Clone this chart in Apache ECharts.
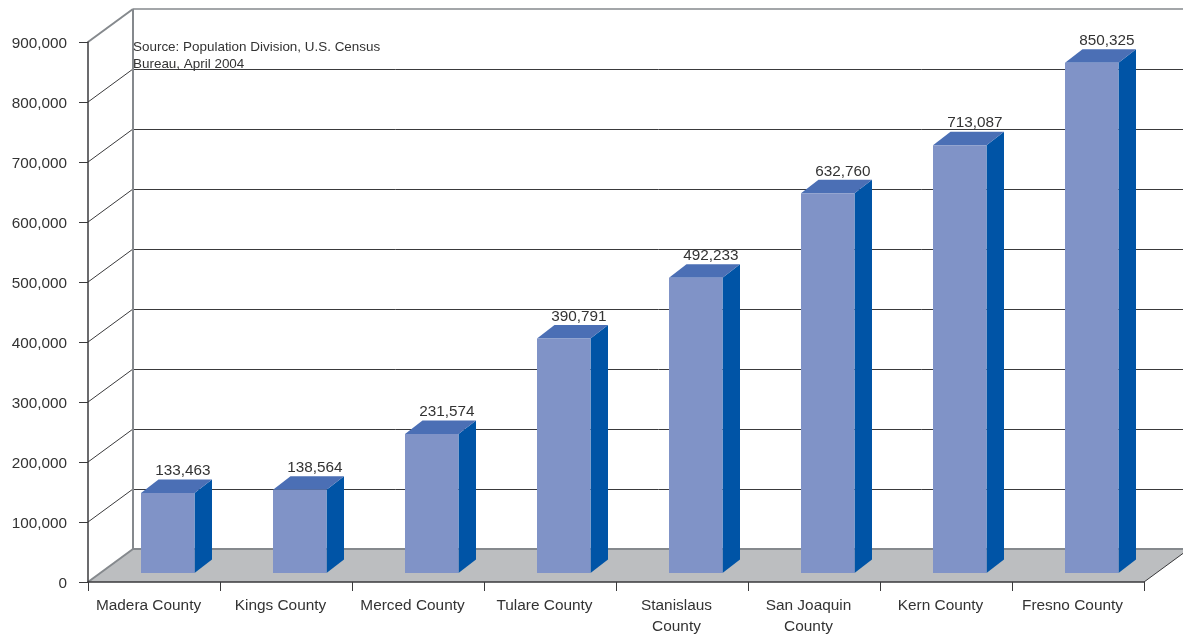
<!DOCTYPE html>
<html><head><meta charset="utf-8">
<style>html,body{margin:0;padding:0;background:#fff}#c{width:1183px;height:635px}</style>
<script src="https://cdn.jsdelivr.net/npm/echarts@6/dist/echarts.min.js"></script>
</head><body><div id="c"></div>
<script>
const categories = ['Madera County','Kings County','Merced County','Tulare County','Stanislaus\nCounty','San Joaquin\nCounty','Kern County','Fresno County'];
const population = [133463,138564,231574,390791,492233,632760,713087,850325];
const gridLevels = [0,100000,200000,300000,400000,500000,600000,700000,800000,900000];
const sourceLines = 'Source: Population Division, U.S. Census\nBureau, April 2004';

const FONT = '"Liberation Sans", Arial, sans-serif';
const TEXT = '#333333', AXIS = '#3a3a3c', WALL = '#85898d', TOPLINE = '#a3a6a9', FLOOR = '#bcbec0';
const DX = 45, DY = -33;
const BAR_W = 53.5, BAR_SHIFT = 53, BASE_UP = 9, DEPTH_X = 17.5, DEPTH_Y = -13.5;

const chart = echarts.init(document.getElementById('c'), null, {renderer:'canvas'});

function floorItem(params, api){
  const r = params.coordSys, b = r.y + r.height, R = r.x + r.width;
  return {type:'polygon', shape:{points:[[r.x,b],[r.x+DX,b+DY],[R+DX,b+DY],[R,b]]}, style:{fill:FLOOR}};
}
function wallItem(params, api){
  const r = params.coordSys, v = api.value(0), y = api.coord([0,v])[1];
  const top = v === 900000, zero = v === 0;
  const children = [];
  const stroke = top ? TOPLINE : zero ? WALL : AXIS;
  const lw = (top || zero) ? 2 : 1;
  const crisp = lw === 1 ? 0.5 : 0;
  children.push({type:'line', shape:{x1:r.x+DX,y1:y+DY+crisp,x2:r.x+r.width+DX,y2:y+DY+crisp}, style:{stroke, lineWidth:lw}});
  children.push({type:'line', shape:{x1:r.x,y1:y,x2:r.x+DX,y2:y+DY}, style:{stroke:(top||zero)?WALL:AXIS, lineWidth:(top||zero)?2:1}});
  if (zero) {
    children.push({type:'line', shape:{x1:r.x+r.width,y1:y,x2:r.x+r.width+DX,y2:y+DY}, style:{stroke:AXIS, lineWidth:1}});
  }
  if (top) {
    const y0 = api.coord([0,0])[1];
    children.push({type:'line', shape:{x1:r.x+DX,y1:y+DY,x2:r.x+DX,y2:y0+DY}, style:{stroke:WALL, lineWidth:2}});
  }
  return {type:'group', children};
}
function barItem(params, api){
  const r = params.coordSys, i = api.value(0), v = api.value(1);
  const band = r.width / categories.length;
  const l = r.x + band * i + BAR_SHIFT, rr = l + BAR_W;
  const b = api.coord([i,0])[1] - BASE_UP;
  const t = api.coord([i,v])[1] - BASE_UP;
  return {type:'group', children:[
    {type:'polygon', shape:{points:[[rr,b],[rr+DEPTH_X,b+DEPTH_Y],[rr+DEPTH_X,t+DEPTH_Y],[rr,t]]}, style:{fill:'#0054a6'}},
    {type:'polygon', shape:{points:[[l,t],[rr,t],[rr+DEPTH_X,t+DEPTH_Y],[l+DEPTH_X,t+DEPTH_Y]]}, style:{fill:'#4b6fb5'}},
    {type:'rect', shape:{x:l,y:t,width:BAR_W,height:b-t}, style:{fill:'#8093c7'}},
    {type:'text', x:l+BAR_W/2+15.2, y:t+DEPTH_Y-8.5, style:{text:v.toLocaleString('en-US'), fill:TEXT, font:'15.3px '+FONT, align:'center', verticalAlign:'middle'}}
  ]};
}

chart.setOption({
  animation:false,
  textStyle:{fontFamily:FONT},
  grid:{left:88,right:39,top:42,bottom:53,containLabel:false,outerBoundsMode:'none'},
  xAxis:{type:'category',data:categories,z:5,
    axisLine:{lineStyle:{color:AXIS,width:1.5}},
    axisTick:{show:true,length:9,lineStyle:{color:AXIS,width:1}},
    axisLabel:{color:TEXT,fontSize:15.4,fontFamily:FONT,margin:13,lineHeight:21,padding:[0,11,0,0],interval:0},
    splitLine:{show:false}},
  yAxis:{type:'value',min:0,max:900000,interval:100000,z:5,
    axisLine:{show:true,lineStyle:{color:AXIS,width:1.5}},
    axisTick:{show:true,length:9,lineStyle:{color:AXIS,width:1}},
    axisLabel:{color:TEXT,fontSize:15.3,fontFamily:FONT,margin:21,verticalAlign:'top',lineHeight:4,formatter:v=>v.toLocaleString('en-US')},
    splitLine:{show:false}},
  graphic:[{type:'text',left:133,top:39,z:20,style:{text:sourceLines,fill:TEXT,font:'13.45px '+FONT,lineHeight:17}}],
  series:[
    {type:'custom',z:1,silent:true,clip:false,renderItem:floorItem,data:[0]},
    {type:'custom',z:2,silent:true,clip:false,renderItem:wallItem,encode:{y:0},data:gridLevels.map(v=>[v])},
    {type:'custom',z:3,silent:true,clip:false,renderItem:barItem,encode:{x:0,y:1},data:population.map((v,i)=>[i,v])}
  ]
});
</script></body></html>
